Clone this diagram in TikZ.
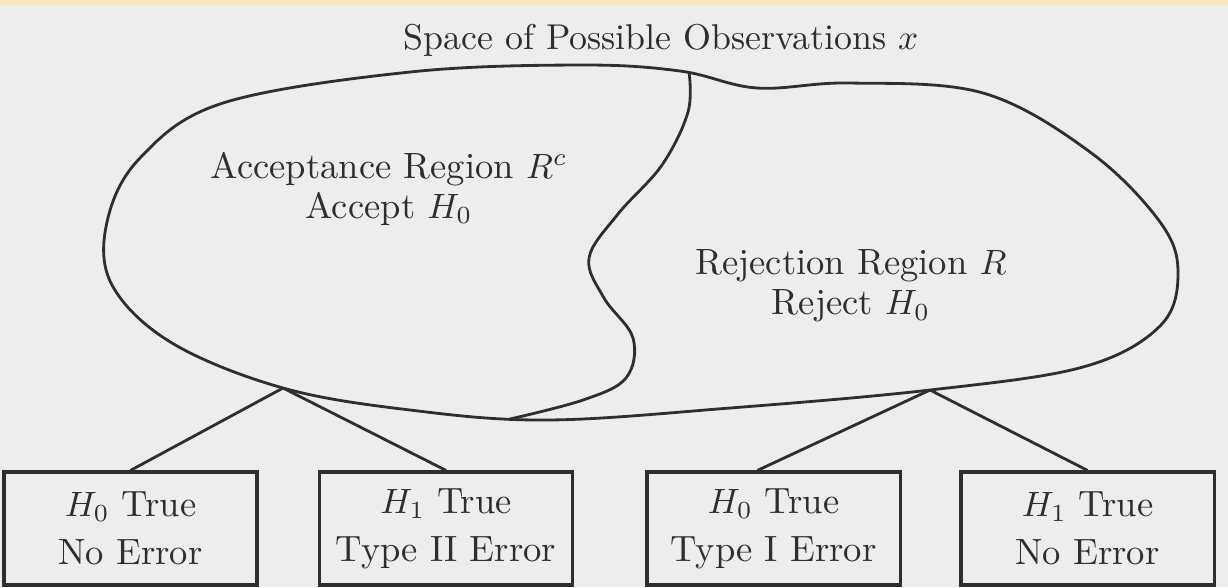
\documentclass[tikz,border=0pt]{standalone}
\usepackage{amsmath}
\usepackage{tikz}
\usetikzlibrary{positioning}
\definecolor{scanbg}{HTML}{EDEDED}
\definecolor{scantop}{HTML}{F3E6C4}
\definecolor{ink}{HTML}{2E2E2E}
\tikzset{
	outcome/.style={draw, line width=0.9pt, minimum width=2.53cm, minimum height=1.13cm, align=center, font=\fontsize{10.4}{13.7}\selectfont},
	region/.style={align=center, font=\fontsize{10.4}{11.4}\selectfont},
}
\begin{document}
\begin{tikzpicture}[x=0.01cm, y=-0.01cm, line width=0.8pt, color=ink]
				\useasboundingbox[fill=scanbg] (0,0) rectangle (1228,587);
				\fill[scantop] (0,0) rectangle (1228,5);
				\node[font=\fontsize{10.2}{12}\selectfont] (title) at (661,40) {Space of Possible Observations $x$};
				\draw plot[smooth cycle, tension=0.6] coordinates {(410,72) (580,65) (680,71) (757,88) (850,83) (983,93) (1090,152) (1160,222) (1178,273) (1160,326) (1083,367) (930,390) (730,408) (547,420) (410,410) (283,388) (172,343) (112,285) (107,222) (140,158) (223,103)};
				\coordinate (divtop) at (689,72);
				\coordinate (divbot) at (510,419);
				\draw plot[smooth, tension=0.6] coordinates {(divtop) (688,112) (662,165) (618,214) (589,258) (604,298) (633,338) (626,378) (583,400) (divbot)};
				\node[region] (accept) at (389,189) {Acceptance Region $R^c$\\Accept $H_0$};
				\node[region] (reject) at (851,286) {Rejection Region $R$\\Reject $H_0$};
				\coordinate (accj) at (283,388);
				\coordinate (rejj) at (930,390);
				\node[outcome] (b1) at (130.5,528.5) {$H_0$ True\\No Error};
				\node[outcome] (b2) at (446,528.5) {$H_1$ True\\Type II Error};
				\node[outcome] (b3) at (773.5,528.5) {$H_0$ True\\Type I Error};
				\node[outcome] (b4) at (1087.5,528.5) {$H_1$ True\\No Error};
				\draw (accj) -- (b1.north);
				\draw (accj) -- (b2.north);
				\draw (rejj) -- ([xshift=-0.16cm]b3.north);
				\draw (rejj) -- (b4.north);
			\end{tikzpicture}
\end{document}
